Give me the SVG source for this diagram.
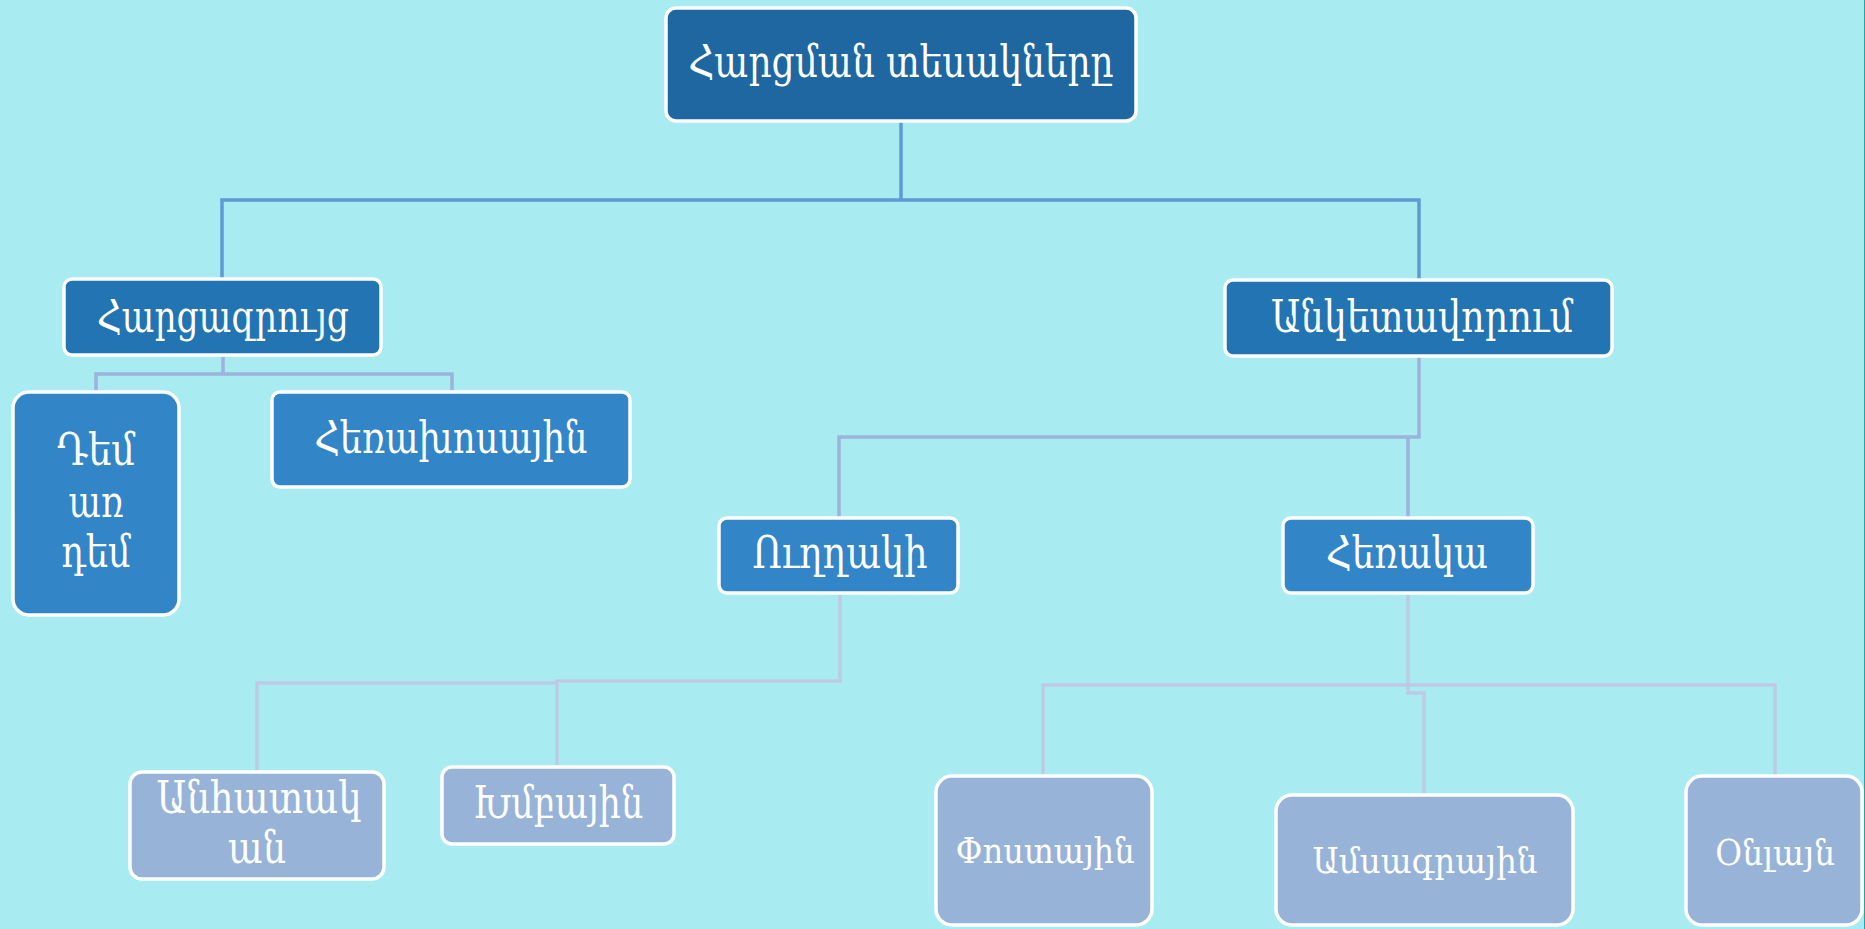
<svg xmlns="http://www.w3.org/2000/svg" width="1865" height="929" viewBox="0 0 1865 929">
<style>
text{font-family:"DejaVu Serif","DejaVu Sans",serif;fill:#fff;text-anchor:middle}
.box{stroke:#fff;stroke-width:3.5}
.l1{fill:#1E67A0}.l2{fill:#2274B3}.l3{fill:#3285C7}.l4{fill:#98B3D8}
.c1{fill:none;stroke:#5E9BD3;stroke-width:3.5}
.c2{fill:none;stroke:#9BB4DA;stroke-width:3.5}
.c3{fill:none;stroke:#BDCAE3;stroke-width:3.5}
.f40{font-size:44px}.f34{font-size:36px}
</style>
<rect x="0" y="0" width="1865" height="929" fill="#A8EBF0"/>
<line x1="1864.5" y1="0" x2="1864.5" y2="929" stroke="#22A3AA" stroke-width="1"/>
<g id="connectors">
<path class="c1" d="M901 121V200M222 278V200H1419V280"/>
<path class="c2" d="M223 357V374M96 390V374H452V390"/>
<path class="c2" d="M1419 356V437H839V518M1408 437V518"/>
<path class="c3" d="M840 594V681H557V767M557 683H257V772"/>
<path class="c3" d="M1408 594V693H1424V795M1043 776V685H1775V776"/>
</g>
<g id="root"><rect class="box l1" x="666" y="8" width="470" height="113" rx="10"/><text class="f40" x="901" y="77" textLength="425" lengthAdjust="spacingAndGlyphs">Հարցման տեսակները</text></g>
<g id="n-interview"><rect class="box l2" x="64" y="279" width="317" height="76" rx="8"/><text class="f40" x="223" y="332" textLength="252" lengthAdjust="spacingAndGlyphs">Հարցազրույց</text></g>
<g id="n-survey"><rect class="box l2" x="1225" y="280" width="387" height="76" rx="8"/><text class="f40" x="1422" y="332" textLength="302" lengthAdjust="spacingAndGlyphs">Անկետավորում</text></g>
<g id="n-face"><rect class="box l3" x="13" y="392" width="166" height="223" rx="16"/><text class="f40" x="96" y="465" textLength="78" lengthAdjust="spacingAndGlyphs">Դեմ</text><text class="f40" x="96" y="517" textLength="55" lengthAdjust="spacingAndGlyphs">առ</text><text class="f40" x="96" y="567" textLength="69" lengthAdjust="spacingAndGlyphs">դեմ</text></g>
<g id="n-phone"><rect class="box l3" x="272" y="392" width="358" height="95" rx="8"/><text class="f40" x="451" y="453" textLength="273" lengthAdjust="spacingAndGlyphs">Հեռախոսային</text></g>
<g id="n-direct"><rect class="box l3" x="719" y="518" width="239" height="75" rx="8"/><text class="f40" x="840" y="568" textLength="175" lengthAdjust="spacingAndGlyphs">Ուղղակի</text></g>
<g id="n-remote"><rect class="box l3" x="1283" y="518" width="250" height="75" rx="8"/><text class="f40" x="1407" y="568" textLength="162" lengthAdjust="spacingAndGlyphs">Հեռակա</text></g>
<g id="n-individual"><rect class="box l4" x="130" y="772" width="254" height="107" rx="12"/><text class="f40" x="259" y="813" textLength="205" lengthAdjust="spacingAndGlyphs">Անհատակ</text><text class="f40" x="257" y="863" textLength="58" lengthAdjust="spacingAndGlyphs">ան</text></g>
<g id="n-group"><rect class="box l4" x="442" y="767" width="232" height="77" rx="10"/><text class="f40" x="558" y="818" textLength="170" lengthAdjust="spacingAndGlyphs">Խմբային</text></g>
<g id="n-post"><rect class="box l4" x="936" y="776" width="216" height="149" rx="16"/><text class="f34" x="1045" y="863" textLength="179" lengthAdjust="spacingAndGlyphs">Փոստային</text></g>
<g id="n-press"><rect class="box l4" x="1276" y="795" width="297" height="130" rx="16"/><text class="f34" x="1425" y="873" textLength="225" lengthAdjust="spacingAndGlyphs">Ամսագրային</text></g>
<g id="n-online"><rect class="box l4" x="1686" y="776" width="176" height="149" rx="16"/><text class="f34" x="1775" y="865" textLength="120" lengthAdjust="spacingAndGlyphs">Օնլայն</text></g>
</svg>
